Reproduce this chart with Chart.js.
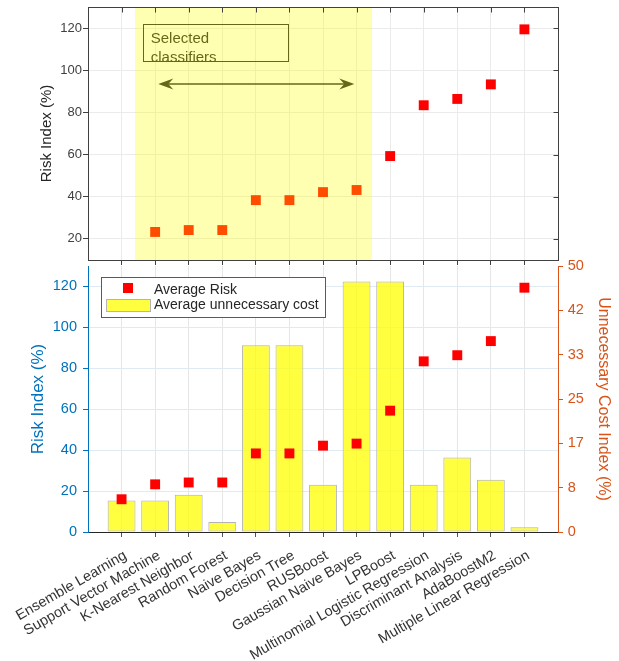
<!DOCTYPE html>
<html>
<head>
<meta charset="utf-8">
<script src="https://cdn.jsdelivr.net/npm/chart.js@4"></script>
<style>
    html, body { margin: 0; padding: 0; background: #fff; }
    #wrap { position: relative; width: 619px; height: 661px; overflow: hidden; }
    #topBox { position: absolute; left: 0; top: 0; width: 619px; height: 268px; }
    #bottomBox { position: absolute; left: 0; top: 258px; width: 619px; height: 403px; }
</style>
</head>
<body>
<div id="wrap">
    <div id="topBox"><canvas id="riskChart" width="619" height="268"></canvas></div>
    <div id="bottomBox"><canvas id="costChart" width="619" height="403"></canvas></div>
</div>
<script>
// data
const classifiers = [
    "Ensemble Learning", "Support Vector Machine", "K-Nearest Neighbor", "Random Forest",
    "Naive Bayes", "Decision Tree", "RUSBoost", "Gaussian Naive Bayes", "LPBoost",
    "Multinomial Logistic Regression", "Discriminant Analysis", "AdaBoostM2",
    "Multiple Linear Regression"
];
const riskValues = [16, 23.3, 24.2, 24.2, 38.4, 38.4, 42.2, 43.2, 59.3, 83.4, 86.4, 93.3, 119.4];
const costValues = [5.9, 5.9, 7.0, 1.9, 35.1, 35.1, 8.9, 47.1, 47.1, 8.9, 14.0, 9.8, 0.9];

const topRiskTicks = [20, 40, 60, 80, 100, 120];
const riskTicks = [0, 20, 40, 60, 80, 100, 120];
const costTickValues = [0, 8.333, 16.667, 25, 33.333, 41.667, 50];
const costTickLabels = ["0", "8", "17", "25", "33", "42", "50"];

// annotation in the top panel (data units)
const selectedRange = [1.4, 8.46];
const noteBox = { x: [1.647, 5.957], y: [121.8, 104.4] };
const noteLines = ["Selected", "classifiers"];
const noteTextX = 1.868;
const noteBaselines = [112.8, 104.1];
const arrowSpan = { x: [2.094, 7.932], y: 93.5 };

const BLUE = "#0072BD";
const ORANGE = "#D95319";
const DARK = "#262626";
const FONT = '"Liberation Sans", Arial, Helvetica, sans-serif';

Chart.defaults.font.family = FONT;

function fixWidth(w) {
    return scale => { scale.width = w; scale.paddingTop = 0; scale.paddingBottom = 0; };
}
function fixHeight(h) {
    return scale => { scale.height = h; scale.paddingLeft = 0; scale.paddingRight = 0; };
}
function categoryTicks(scale) {
    scale.ticks = classifiers.map((_, i) => ({ value: i + 1 }));
}

function drawHead(ctx, tipX, tipY, dir) {
    ctx.beginPath();
    ctx.moveTo(tipX, tipY);
    ctx.lineTo(tipX - dir * 15, tipY - 5.5);
    ctx.lineTo(tipX - dir * 10, tipY);
    ctx.lineTo(tipX - dir * 15, tipY + 5.5);
    ctx.closePath();
    ctx.fill();
}

// text box, arrow and the shaded region of selected classifiers
const selectionPlugin = {
    id: "selection",
    afterDatasetsDraw(chart) {
        const { ctx, chartArea: a, scales: { x, y } } = chart;
        ctx.save();
        ctx.strokeStyle = DARK;
        ctx.fillStyle = DARK;
        ctx.lineWidth = 1;

        const bx1 = Math.round(x.getPixelForValue(noteBox.x[0])) + 0.5;
        const bx2 = Math.round(x.getPixelForValue(noteBox.x[1])) + 0.5;
        const by1 = Math.round(y.getPixelForValue(noteBox.y[0])) + 0.5;
        const by2 = Math.round(y.getPixelForValue(noteBox.y[1])) + 0.5;
        ctx.strokeRect(bx1, by1, bx2 - bx1, by2 - by1);

        ctx.font = "15px " + FONT;
        ctx.textBaseline = "alphabetic";
        noteLines.forEach((t, i) => {
            ctx.fillText(t, x.getPixelForValue(noteTextX), y.getPixelForValue(noteBaselines[i]));
        });

        const ax1 = x.getPixelForValue(arrowSpan.x[0]);
        const ax2 = x.getPixelForValue(arrowSpan.x[1]);
        const ay = y.getPixelForValue(arrowSpan.y);
        ctx.lineWidth = 1.5;
        ctx.beginPath();
        ctx.moveTo(ax1 + 8, ay);
        ctx.lineTo(ax2 - 8, ay);
        ctx.stroke();
        drawHead(ctx, ax1, ay, -1);
        drawHead(ctx, ax2, ay, 1);

        const sx1 = x.getPixelForValue(selectedRange[0]);
        const sx2 = x.getPixelForValue(selectedRange[1]);
        ctx.fillStyle = "rgba(255, 255, 0, 0.3)";
        ctx.fillRect(sx1, a.top, sx2 - sx1, a.bottom - a.top);
        ctx.restore();
    },
    afterDraw(chart) {
        const { ctx, chartArea: a, scales: { x, y } } = chart;
        const l = Math.round(a.left) + 0.5, r = Math.round(a.right) + 0.5;
        const t = Math.round(a.top) + 0.5, b = Math.round(a.bottom) + 0.5;
        ctx.save();
        ctx.strokeStyle = "#404040";
        ctx.lineWidth = 1;
        ctx.strokeRect(l, t, r - l, b - t);
        ctx.beginPath();
        topRiskTicks.forEach(v => {
            const py = Math.round(y.getPixelForValue(v)) + 0.5;
            ctx.moveTo(r, py);
            ctx.lineTo(r - 5, py);
        });
        classifiers.forEach((_, i) => {
            const px = Math.round(x.getPixelForValue(i + 1)) + 0.5;
            ctx.moveTo(px, t);
            ctx.lineTo(px, t + 5);
        });
        ctx.stroke();
        ctx.restore();
    }
};

// legend drawn as a framed box inside the plot
const boxLegend = {
    id: "boxLegend",
    afterDraw(chart) {
        const { ctx, chartArea } = chart;
        const [risk, cost] = chart.data.datasets;
        const left = chartArea.left + 13, top = chartArea.top + 11;
        ctx.save();
        ctx.font = "14px " + FONT;
        const textW = Math.max(ctx.measureText(risk.label).width, ctx.measureText(cost.label).width);
        const w = Math.round(53 + textW + 6), h = 40;
        ctx.fillStyle = "#fff";
        ctx.fillRect(left, top, w, h);
        ctx.strokeStyle = "#5a5a5a";
        ctx.lineWidth = 1;
        ctx.strokeRect(left + 0.5, top + 0.5, w, h);

        ctx.fillStyle = risk.pointBackgroundColor;
        ctx.fillRect(left + 22, top + 6, 10, 10);
        ctx.fillStyle = cost.backgroundColor;
        ctx.fillRect(left + 5, top + 22, 45, 13);
        ctx.strokeStyle = cost.borderColor;
        ctx.strokeRect(left + 5.5, top + 22.5, 44, 12);

        ctx.fillStyle = DARK;
        ctx.textBaseline = "middle";
        ctx.fillText(risk.label, left + 53, top + 13.5);
        ctx.fillText(cost.label, left + 53, top + 28.5);
        ctx.restore();
    }
};

const topPoints = riskValues
    .map((v, i) => ({ x: i + 1, y: v }))
    .filter((_, i) => i > 0);

new Chart(document.getElementById("riskChart"), {
    type: "scatter",
    data: {
        datasets: [{
            label: "Risk",
            data: topPoints,
            pointStyle: "rect",
            pointRadius: 7,
            pointHoverRadius: 7,
            pointBackgroundColor: "#ff0000",
            pointBorderWidth: 0
        }]
    },
    options: {
        responsive: false,
        animation: false,
        events: [],
        layout: { padding: { top: 7, right: 61, left: 0, bottom: 0 } },
        plugins: { legend: { display: false }, tooltip: { enabled: false } },
        scales: {
            x: {
                type: "linear",
                min: 0,
                max: 14,
                afterBuildTicks: categoryTicks,
                afterFit: fixHeight(8),
                ticks: { display: false },
                grid: { color: "#ebebeb", tickColor: "#404040", tickLength: 5 },
                border: { color: "#404040" }
            },
            y: {
                min: 10,
                max: 130,
                afterBuildTicks: s => { s.ticks = topRiskTicks.map(v => ({ value: v })); },
                afterFit: fixWidth(88),
                ticks: { color: "#404040", font: { size: 13 }, padding: 1 },
                grid: { color: "#ebebeb", tickColor: "#404040", tickLength: 5 },
                border: { color: "#404040" },
                title: {
                    display: true,
                    text: "Risk Index (%)",
                    color: DARK,
                    font: { size: 15 },
                    padding: { top: 37.7, bottom: 0 }
                }
            }
        }
    },
    plugins: [selectionPlugin]
});

new Chart(document.getElementById("costChart"), {
    type: "bar",
    data: {
        datasets: [{
            type: "line",
            label: "Average Risk",
            data: riskValues.map((v, i) => ({ x: i + 1, y: v })),
            yAxisID: "y",
            showLine: false,
            pointStyle: "rect",
            pointRadius: 7,
            pointHoverRadius: 7,
            pointBackgroundColor: "#ff0000",
            pointBorderWidth: 0,
            borderColor: "#ff0000",
            order: 0
        }, {
            type: "bar",
            label: "Average unnecessary cost",
            data: costValues.map((v, i) => ({ x: i + 1, y: v })),
            yAxisID: "y1",
            backgroundColor: "rgba(255, 255, 0, 0.75)",
            borderColor: "#b4b4b4",
            borderWidth: 1,
            borderSkipped: false,
            barPercentage: 1,
            categoryPercentage: 0.83,
            order: 1
        }]
    },
    options: {
        responsive: false,
        animation: false,
        events: [],
        layout: { padding: { top: 8, right: 0, left: 0, bottom: 0 } },
        plugins: { legend: { display: false }, tooltip: { enabled: false } },
        scales: {
            x: {
                type: "linear",
                min: 0,
                max: 14,
                offset: false,
                afterBuildTicks: categoryTicks,
                afterFit: fixHeight(129),
                ticks: {
                    autoSkip: false,
                    minRotation: 30,
                    maxRotation: 30,
                    padding: 10,
                    labelOffset: 4,
                    color: "#333333",
                    font: { size: 14.5 },
                    callback: v => classifiers[Math.round(v) - 1] ?? ""
                },
                grid: { offset: false, color: "#e6e6e6", tickColor: "#555555", tickLength: 5 },
                border: { color: DARK }
            },
            y: {
                position: "left",
                min: 0,
                max: 130,
                afterBuildTicks: s => { s.ticks = riskTicks.map(v => ({ value: v })); },
                afterFit: fixWidth(88),
                ticks: { color: BLUE, font: { size: 14.5 }, padding: 6 },
                grid: { color: "#dfeaf3", tickColor: BLUE, tickLength: 5 },
                border: { color: BLUE },
                title: {
                    display: true,
                    text: "Risk Index (%)",
                    color: BLUE,
                    font: { size: 17 },
                    padding: { top: 27.8, bottom: 0 }
                }
            },
            y1: {
                position: "right",
                min: 0,
                max: 50,
                afterBuildTicks: s => { s.ticks = costTickValues.map(v => ({ value: v })); },
                afterFit: fixWidth(61),
                ticks: {
                    color: ORANGE,
                    font: { size: 14.5 },
                    padding: 4.7,
                    callback: (v, i) => costTickLabels[i]
                },
                grid: { drawOnChartArea: false, tickColor: ORANGE, tickLength: 5 },
                border: { color: ORANGE },
                title: {
                    display: true,
                    text: "Unnecessary Cost Index (%)",
                    color: ORANGE,
                    font: { size: 16 },
                    padding: { top: 6.4, bottom: 0 }
                }
            }
        }
    },
    plugins: [boxLegend]
});
</script>
</body>
</html>
